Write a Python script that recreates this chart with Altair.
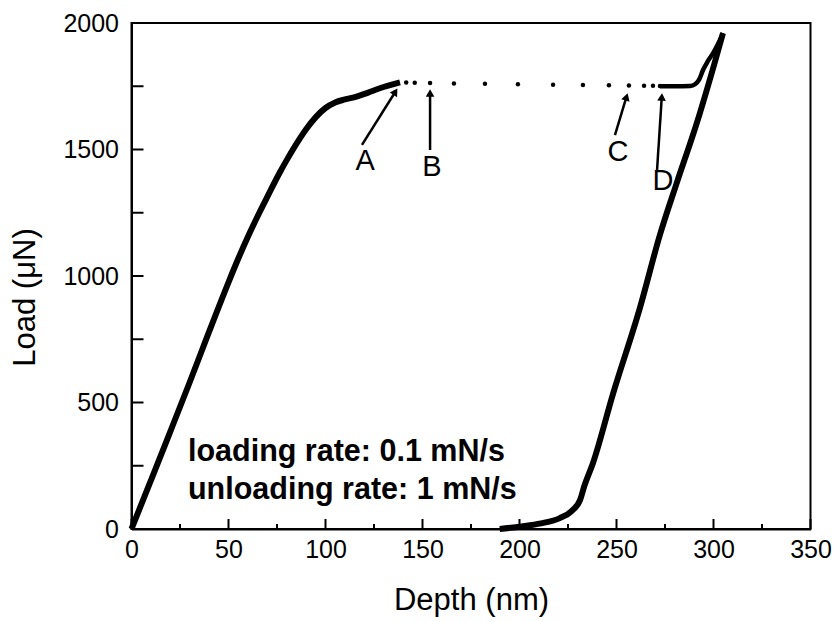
import math
import altair as alt
import pandas as pd

# ---------------- data ----------------
load_depth = [0, 10, 20, 30, 40, 50, 55, 60, 66.2, 70, 76.5, 80, 86.9, 90, 95, 100, 105, 110, 116, 122, 128, 138.4]
load_force = [0, 192, 385, 580, 780, 975, 1068, 1155, 1255, 1313, 1410, 1458, 1545, 1580, 1628, 1664, 1686, 1698, 1709, 1725, 1742, 1765]

hold_depth = [141.6, 146, 153.9, 166.2, 182.2, 199.2, 217.3, 232.7, 246.1, 256.4, 264.2, 268.8, 272.4]
hold_force = [1765, 1764, 1763, 1761, 1760, 1758, 1756, 1755, 1754, 1753, 1752, 1752, 1751]

reload_depth = [272.4, 280, 288, 290.5, 292.5, 294.6, 297, 299.8, 302.5, 304.9]
reload_force = [1750, 1750, 1751, 1758, 1775, 1814, 1848, 1881, 1920, 1960]

unload_depth = [189.8, 201, 211, 220.8, 227, 231.2, 233.5, 237.8, 248.2, 262, 272.4, 281.2, 291.5, 300.5, 304.9]
unload_force = [0, 10, 22, 43, 72, 114, 172, 259, 534, 872, 1163, 1371, 1607, 1840, 1960]

arrow_label = ["A", "B", "C", "D"]
arrow_x0 = [118.8, 153.9, 249.2, 270.9]
arrow_y0 = [1518, 1498, 1557, 1419]
arrow_x1 = [137.4, 153.9, 255.9, 273.5]
arrow_y1 = [1745, 1743, 1727, 1727]
label_x = [120.4, 154.9, 250.8, 274.0]
label_y = [1455, 1431, 1490, 1375]

note_lines = ["loading rate: 0.1 mN/s", "unloading rate: 1 mN/s"]
note_x = [29.1, 29.1]
note_y = [269, 119]

x_major = [0, 50, 100, 150, 200, 250, 300, 350]
x_minor = [25, 75, 125, 175, 225, 275, 325]
y_ticks = [0, 250, 500, 750, 1000, 1250, 1500, 1750, 2000]
y_labels = [0, 500, 1000, 1500, 2000]

# ---------------- layout ----------------
W, H = 679, 506
XMAX, YMAX = 350, 2000
FONT = "Liberation Sans"
px_x = W / XMAX
px_y = H / YMAX

xs = alt.Scale(domain=[0, XMAX], nice=False, zero=False)
ys = alt.Scale(domain=[0, YMAX], nice=False, zero=False)

xaxis = alt.Axis(values=x_major, format="d", ticks=False, grid=False, labelFontSize=25,
                 labelFont=FONT, labelColor="black", labelPadding=8,
                 domainColor="black", domainWidth=2,
                 titleFont=FONT, titleFontSize=31, titleFontWeight="normal",
                 titleColor="black", titleY=80, titleBaseline="alphabetic",
                 labelFlush=False)
yaxis = alt.Axis(values=y_labels, format="d", ticks=False, grid=False, labelFontSize=25,
                 labelFont=FONT, labelColor="black", labelPadding=13,
                 domainColor="black", domainWidth=2,
                 titleFont=FONT, titleFontSize=31, titleFontWeight="normal",
                 titleColor="black", titleX=-106, titleY=274,
                 titleBaseline="middle", titleAlign="center", titleAngle=-90,
                 labelFlush=False)
XT = "Depth (nm)"
YT = "Load (\u03bcN)"

X = lambda f: alt.X(f, type="quantitative", scale=xs, axis=xaxis, title=XT)
Y = lambda f: alt.Y(f, type="quantitative", scale=ys, axis=yaxis, title=YT)

loading = pd.DataFrame({"d": load_depth, "f": load_force})
hold = pd.DataFrame({"d": hold_depth, "f": hold_force})
reload_ = pd.DataFrame({"d": reload_depth, "f": reload_force})
unload = pd.DataFrame({"d": unload_depth, "f": unload_force})

# arrows
rows = []
for lab, x0, y0, x1, y1 in zip(arrow_label, arrow_x0, arrow_y0, arrow_x1, arrow_y1):
    dxp = (x1 - x0) * px_x
    dyp = (y1 - y0) * px_y
    L = math.hypot(dxp, dyp)
    ux, uy = dxp / L, dyp / L
    back = 5.0
    hx = x1 - ux * back / px_x
    hy = y1 - uy * back / px_y
    ang = math.degrees(math.atan2(dxp, dyp)) % 360
    rows.append({"x0": x0, "y0": y0, "xs": x1 - ux * 8 / px_x, "ys": y1 - uy * 8 / px_y,
                 "hx": hx, "hy": hy, "ang": ang})
arrows = pd.DataFrame(rows)
labels = pd.DataFrame({"t": arrow_label, "x": label_x, "y": label_y})
notes = pd.DataFrame({"t": note_lines, "x": note_x, "y": note_y})

# inward ticks
xmaj = alt.Chart(pd.DataFrame({"d": x_major})).mark_rule(color="black", strokeWidth=2).encode(
    x=X("d"), y=alt.value(H), y2=alt.value(H - 10))
xmin = alt.Chart(pd.DataFrame({"d": x_minor})).mark_rule(color="black", strokeWidth=2).encode(
    x=X("d"), y=alt.value(H), y2=alt.value(H - 5))
ytk = alt.Chart(pd.DataFrame({"f": y_ticks})).mark_rule(color="black", strokeWidth=2).encode(
    y=Y("f"), x=alt.value(0), x2=alt.value(12))

l1 = alt.Chart(loading).mark_line(color="black", strokeWidth=6, interpolate="monotone").encode(
    x=X("d"), y=Y("f"))
l2 = alt.Chart(reload_).mark_line(color="black", strokeWidth=4.5, interpolate="monotone").encode(
    x=X("d"), y=Y("f"))
l3 = alt.Chart(unload).mark_line(color="black", strokeWidth=6, interpolate="monotone").encode(
    x=X("d"), y=Y("f"))
dots = alt.Chart(hold).mark_circle(color="black", size=20, opacity=1).encode(x=X("d"), y=Y("f"))

shafts = alt.Chart(arrows).mark_rule(color="black", strokeWidth=2.5).encode(
    x=X("x0"), y=Y("y0"), x2="xs", y2="ys")
heads = alt.Chart(arrows).mark_point(shape="triangle-up", filled=True, color="black",
                                     size=75, opacity=1).encode(
    x=X("hx"), y=Y("hy"), angle=alt.Angle("ang:Q", scale=None))
lab = alt.Chart(labels).mark_text(font=FONT, fontSize=29, color="black",
                                  baseline="middle", align="center").encode(
    x=X("x"), y=Y("y"), text="t:N")
note = alt.Chart(notes).mark_text(font=FONT, fontSize=30.5, fontWeight="bold", color="black",
                                  baseline="alphabetic", align="left").encode(
    x=X("x"), y=Y("y"), text="t:N")

chart = alt.layer(xmaj, xmin, ytk, l1, l2, l3, dots, shafts, heads, lab, note).properties(
    width=W, height=H,
    autosize=alt.AutoSizeParams(type="none"),
    padding={"left": 131.5, "top": 23, "right": 22.5, "bottom": 93},
    background="white",
).configure_view(stroke="black", strokeWidth=2)

chart.save("out.html", embed_options={"renderer": "svg", "actions": False})
